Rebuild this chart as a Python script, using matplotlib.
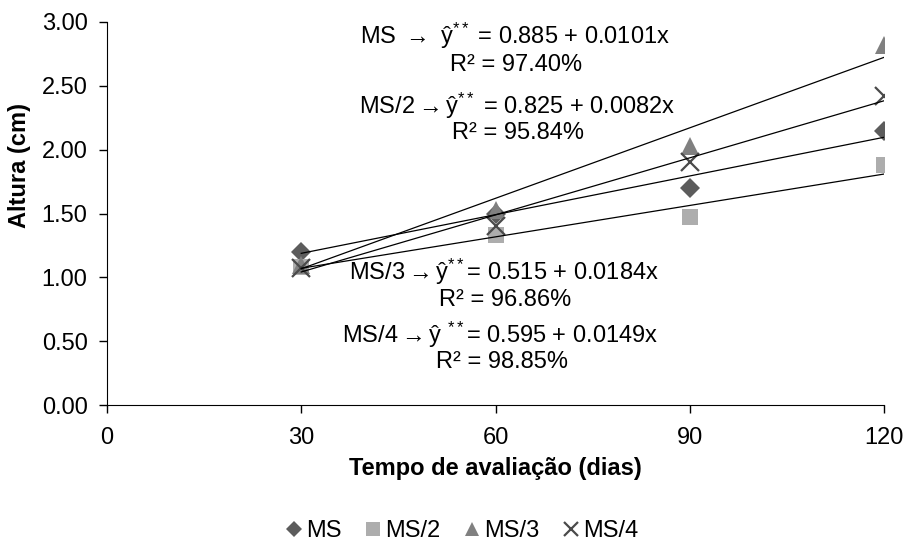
import numpy as np
import matplotlib.pyplot as plt

plt.rcParams['font.family'] = ['Liberation Sans', 'DejaVu Sans']
plt.rcParams['mathtext.fontset'] = 'custom'
plt.rcParams['mathtext.rm'] = 'Liberation Sans'
plt.rcParams['mathtext.it'] = 'Liberation Sans'

dias = [30, 60, 90, 120]
series = ['MS', 'MS/2', 'MS/3', 'MS/4']
ms = [1.20, 1.50, 1.70, 2.15]
ms2 = [1.08, 1.33, 1.47, 1.88]
ms3 = [1.10, 1.53, 2.03, 2.82]
ms4 = [1.07, 1.40, 1.90, 2.42]
b0 = [0.885, 0.825, 0.515, 0.595]
b1 = [0.0101, 0.0082, 0.0184, 0.0149]
r2 = ['97.40', '95.84', '96.86', '98.85']

markers = ['D', 's', '^', 'x']
colors = ['#5c5c5c', '#adadad', '#808080', '#4a4a4a']
sizes = [10, 12, 13, 13]

fig = plt.figure(figsize=(9.09, 5.45), dpi=100)
ax = fig.add_axes([107/909, 1-405/545, (884-107)/909, (405-22)/545])

for vals, name, m, c, s in zip([ms, ms2, ms3, ms4], series, markers, colors, sizes):
    ax.plot(dias, vals, linestyle='none', marker=m, color=c, markersize=s,
            markeredgewidth=1.6 if m == 'x' else 0, label=name, zorder=3)

xx = np.array([dias[0], dias[-1]])
for a, b in zip(b0, b1):
    ax.plot(xx, a + b*xx, color='black', linewidth=0.9, zorder=4)

eqs = [('MS', ' $\\rightarrow$ ŷ$^{**}$ = '), ('MS/2', '$\\rightarrow$ŷ$^{**}$ = '),
       ('MS/3', '$\\rightarrow$ŷ$^{**}$= '), ('MS/4', '$\\rightarrow$ŷ $^{**}$= ')]
pos = [(515, 36, 516, 65), (517, 106, 518, 133), (504, 272, 505, 300), (500, 335, 502, 362)]
for (nm, mid), a, b, r, (px, py, px2, py2) in zip(eqs, b0, b1, r2, pos):
    ax.text((px - 107) / 777 * 120, (405 - py) / 383 * 3.0,
            f'{nm}{mid}{a:.3f} + {b:.4f}x', ha='center', va='center', fontsize=17)
    ax.text((px2 - 107) / 777 * 120, (405 - py2) / 383 * 3.0,
            f'R² = {r}%', ha='center', va='center', fontsize=17)

ax.set_xlim(0, 120)
ax.set_ylim(0, 3.0)
ax.set_xticks([0, 30, 60, 90, 120])
ax.set_yticks(np.arange(0, 3.01, 0.5))
ax.set_yticklabels([f'{v:.2f}' for v in np.arange(0, 3.01, 0.5)])
ax.tick_params(labelsize=17, direction='out', length=6, width=1)
ax.tick_params(axis='x', pad=10)
ax.tick_params(axis='y', pad=8)
ax.spines['top'].set_visible(False)
ax.spines['right'].set_visible(False)
ax.set_xlabel('Tempo de avaliação (dias)', fontsize=17, fontweight='bold')
ax.set_ylabel('Altura (cm)', fontsize=17, fontweight='bold')
ax.xaxis.set_label_coords(0.5, -(468 - 405) / 383, transform=ax.transAxes)
ax.xaxis.label.set_va('center')
ax.yaxis.set_label_coords(-(107 - 20) / 777, (405 - 165) / 383)
ax.yaxis.label.set_va('center')

ax.legend(loc='center', bbox_to_anchor=((461 - 107) / 777, -(531 - 405) / 383), ncol=4,
          frameon=False, fontsize=17, handletextpad=0.05, columnspacing=0.9,
          handlelength=0.9, markerscale=0.8, borderpad=0)

fig.savefig('out.png', dpi=100)
